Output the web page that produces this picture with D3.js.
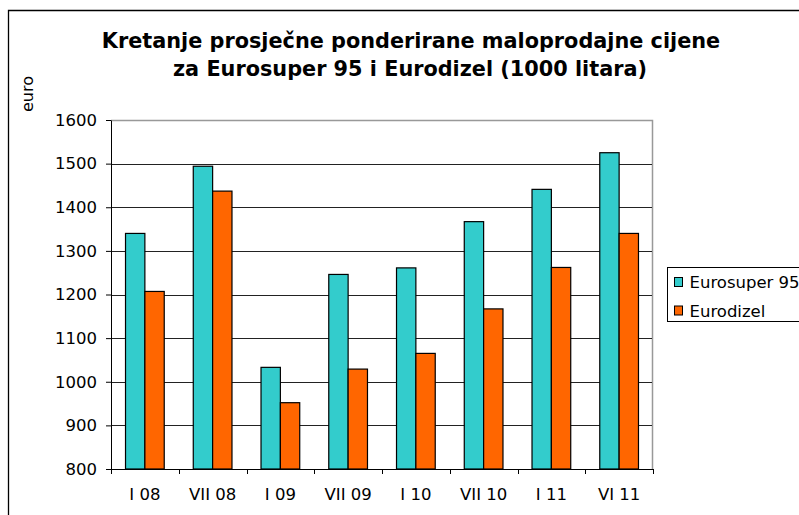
<!DOCTYPE html>
<html>
<head>
<meta charset="utf-8">
<script src="https://cdn.jsdelivr.net/npm/d3@7"></script>
<style>
  body { margin: 0; background: #fff; }
  svg text { font-family: Verdana, "DejaVu Sans", sans-serif; fill: #000; }
</style>
</head>
<body>
<div id="chart"></div>
<script>
var categories = ["I 08", "VII 08", "I 09", "VII 09", "I 10", "VII 10", "I 11", "VI 11"];
var seriesNames = ["Eurosuper 95", "Eurodizel"];
var eurosuper = [1340, 1494, 1033, 1246, 1261, 1367, 1441, 1525];
var eurodizel = [1207, 1437, 952, 1029, 1065, 1167, 1262, 1340];
var yTicks = [800, 900, 1000, 1100, 1200, 1300, 1400, 1500, 1600];
var colors = ["#33CCCC", "#FF6600"];

var W = 799, H = 515;
var margin = {top: 120, right: 146, bottom: 46, left: 111};
var width = W - margin.left - margin.right,
    height = H - margin.top - margin.bottom;

var svg = d3.select("#chart").append("svg")
    .attr("width", W)
    .attr("height", H);

// outer chart frame (runs off the window on the right and bottom)
svg.append("path")
  .attr("d", "M8.5,520V10.5H805")
  .attr("fill", "none")
  .attr("stroke", "#000")
  .attr("stroke-width", 1.3);

// title
var title = svg.append("text")
  .attr("text-anchor", "middle")
  .attr("font-weight", "bold")
  .attr("font-size", 20.8);
title.append("tspan").attr("x", 411).attr("y", 48)
  .text("Kretanje prosječne ponderirane maloprodajne cijene");
title.append("tspan").attr("x", 410).attr("y", 76)
  .text("za Eurosuper 95 i Eurodizel (1000 litara)");

svg.append("text")
  .attr("transform", "translate(33,94) rotate(-90)")
  .attr("text-anchor", "middle")
  .attr("font-size", 16)
  .text("euro");

var g = svg.append("g")
  .attr("transform", "translate(" + margin.left + "," + margin.top + ")");

var x = d3.scaleBand()
  .domain(categories)
  .range([0, width]);

var xs = d3.scaleBand()
  .domain(seriesNames)
  .range([0, x.bandwidth()])
  .paddingOuter(0.75);

var y = d3.scaleLinear()
  .domain([800, 1600])
  .range([height, 0]);

// plot area frame (grey top and right)
g.append("path")
  .attr("d", "M0,0.5H" + (width - 0.5) + "V" + height)
  .attr("fill", "none")
  .attr("stroke", "#999")
  .attr("stroke-width", 1.5);

// gridlines
g.append("g").selectAll("line")
  .data(yTicks.slice(1, -1))
  .enter().append("line")
  .attr("x1", 0)
  .attr("x2", width - 1)
  .attr("y1", function(d) { return Math.round(y(d)) + 0.5; })
  .attr("y2", function(d) { return Math.round(y(d)) + 0.5; })
  .attr("stroke", "#222")
  .attr("stroke-width", 1);

// bars
var rows = categories.map(function(c, i) {
  return {cat: c, values: [
    {name: seriesNames[0], value: eurosuper[i], color: colors[0]},
    {name: seriesNames[1], value: eurodizel[i], color: colors[1]}
  ]};
});

g.append("g").selectAll("g")
  .data(rows)
  .enter().append("g")
  .attr("transform", function(d) { return "translate(" + x(d.cat) + ",0)"; })
  .selectAll("rect")
  .data(function(d) { return d.values; })
  .enter().append("rect")
  .attr("x", function(d) { return xs(d.name); })
  .attr("width", xs.bandwidth())
  .attr("y", function(d) { return y(d.value); })
  .attr("height", function(d) { return height - y(d.value); })
  .attr("fill", function(d) { return d.color; })
  .attr("stroke", "#000")
  .attr("stroke-width", 1.2);

// y axis
var yAxis = g.append("g")
  .call(d3.axisLeft(y).tickValues(yTicks).tickFormat(d3.format("d"))
    .tickSize(5).tickSizeOuter(0).tickPadding(9));
yAxis.selectAll("text").attr("font-size", 16.5).attr("font-family", null);
yAxis.selectAll("line, path").attr("stroke", "#000");

// x axis: labels centred in bands, tick marks between categories
var xAxis = g.append("g")
  .attr("transform", "translate(0," + height + ")")
  .call(d3.axisBottom(x).tickSize(0).tickSizeOuter(0).tickPadding(19));
xAxis.selectAll("text").attr("font-size", 16.5).attr("font-family", null);
xAxis.select(".domain").attr("stroke", "#000");
xAxis.selectAll(".sep")
  .data(categories.map(function(c) { return x(c); }).concat([width]))
  .enter().append("line")
  .attr("class", "sep")
  .attr("x1", function(d) { return Math.round(d) + 0.5; })
  .attr("x2", function(d) { return Math.round(d) + 0.5; })
  .attr("y1", 0)
  .attr("y2", 5)
  .attr("stroke", "#000");

// legend
var legend = svg.append("g").attr("transform", "translate(667.5,267.5)");
legend.append("rect")
  .attr("width", 150)
  .attr("height", 54)
  .attr("fill", "#fff")
  .attr("stroke", "#000");
var items = legend.selectAll(".item")
  .data(seriesNames)
  .enter().append("g")
  .attr("class", "item")
  .attr("transform", function(d, i) { return "translate(7," + (10 + i * 28.5) + ")"; });
items.append("rect")
  .attr("width", 8)
  .attr("height", 9)
  .attr("fill", function(d, i) { return colors[i]; })
  .attr("stroke", "#000");
items.append("text")
  .attr("x", 15)
  .attr("y", 5)
  .attr("dy", "0.36em")
  .attr("font-size", 16.5)
  .text(function(d) { return d; });
</script>
</body>
</html>
